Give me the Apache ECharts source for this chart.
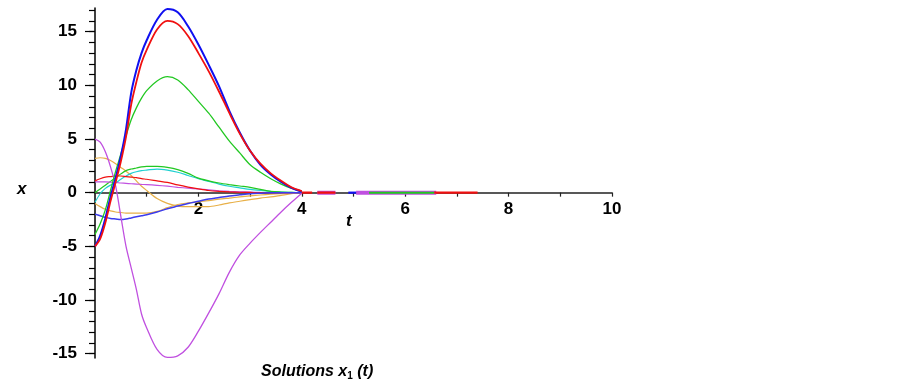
<!DOCTYPE html>
<html>
<head>
<meta charset="utf-8">
<script src="https://cdn.jsdelivr.net/npm/echarts@6/dist/echarts.min.js"></script>
<style>
html,body{margin:0;padding:0;background:#fff;}
#chart{width:903px;height:389px;}
</style>
</head>
<body>
<div id="chart"></div>
<script>
// time samples (t)
const T = [0,0.1,0.2,0.3,0.4,0.5,0.6,0.7,0.8,0.9,1.0,1.2,1.4,1.6,1.8,2.0,2.2,2.4,2.6,2.8,3.0,3.2,3.4,3.6,3.8,4.0];

// solution curves x1(t)
const blueBig   = [-5.0,-4.0,-2.4,-0.4,1.4,3.4,5.9,9.3,11.4,13.0,14.2,16.1,17.1,16.8,15.5,13.8,11.9,9.9,7.6,5.6,3.9,2.6,1.7,1.0,0.45,0.1];
const redBig    = [-5.0,-4.3,-2.8,-0.8,1.0,2.9,5.2,8.2,10.3,12.1,13.3,15.2,16.0,15.7,14.6,13.0,11.3,9.4,7.4,5.5,3.9,2.7,1.8,1.1,0.5,0.15];
const greenBig  = [-3.9,-2.9,-1.6,0.2,2.0,3.6,5.3,6.8,7.9,8.8,9.5,10.4,10.8,10.5,9.6,8.5,7.4,6.1,4.8,3.7,2.6,1.9,1.3,0.8,0.4,0.1];
const purpleBig = [5.0,4.7,3.8,2.4,0.6,-2.2,-5.0,-7.0,-9.0,-11.3,-12.6,-14.6,-15.35,-15.2,-14.4,-12.9,-11.2,-9.4,-7.4,-5.8,-4.7,-3.7,-2.75,-1.8,-0.9,-0.05];
const orangeA   = [3.2,3.25,3.2,3.0,2.7,2.35,2.0,1.6,1.1,0.6,0.2,-0.55,-1.0,-1.25,-1.3,-1.3,-1.3,-1.15,-0.95,-0.8,-0.65,-0.5,-0.4,-0.25,-0.1,0];
const orangeB   = [-1.0,-1.3,-1.55,-1.7,-1.8,-1.85,-1.9,-1.9,-1.9,-1.9,-1.9,-1.75,-1.4,-1.1,-0.95,-0.85,-0.75,-0.6,-0.5,-0.4,-0.3,-0.22,-0.15,-0.1,-0.05,0];
const blueSmall = [-2.0,-2.15,-2.3,-2.4,-2.45,-2.5,-2.45,-2.35,-2.25,-2.15,-2.05,-1.8,-1.5,-1.25,-1.0,-0.8,-0.6,-0.45,-0.3,-0.2,-0.1,-0.05,0,0,0,0];
const redSmall  = [1.1,1.3,1.45,1.5,1.55,1.55,1.5,1.45,1.4,1.3,1.25,1.1,0.95,0.72,0.52,0.35,0.2,0.12,0.07,0.04,0.02,0,0,0,0,0];
const purpleSmall=[1.0,1.0,1.0,0.98,0.95,0.9,0.87,0.83,0.8,0.77,0.75,0.68,0.6,0.5,0.42,0.34,0.26,0.18,0.12,0.08,0.05,0.02,0,0,0,0];
const cyanLine  = [-0.9,-0.1,0.4,0.7,0.9,1.25,1.55,1.8,1.95,2.05,2.1,2.2,2.1,1.9,1.6,1.3,1.05,0.8,0.6,0.45,0.3,0.2,0.12,0.06,0.03,0];
const greenSmall= [0,0.35,0.7,1.05,1.4,1.75,2.05,2.2,2.3,2.4,2.45,2.45,2.35,2.15,1.8,1.35,1.1,0.9,0.75,0.62,0.5,0.3,0.12,0.06,0.03,0];

// near-zero stretches lying on the t axis after t = 4: [t start, t end]
const purpleTail = [[4.3,4.65],[5.05,6.6]];
const redTail    = [[4.0,4.2],[4.3,4.65],[6.56,7.4]];
const blueTail   = [[4.9,5.05]];
const greenTail  = [[5.3,6.56]];

// axis ticks
const xTicks = [1,2,3,4,5,6,7,8,9,10];
const xLabels = [2,4,6,8,10];
const yLabelTicks = [-15,-10,-5,0,5,10,15];
const yMinorTicks = [-15,-14,-13,-12,-11,-10,-9,-8,-7,-6,-5,-4,-3,-2,-1,0,1,2,3,4,5,6,7,8,9,10,11,12,13,14,15,16,17];
const yMin = -15.4, yMax = 17.2;

function pts(vals){ return T.map((t,i)=>[t, vals[i]]); }
function segs(list){
  const out = [];
  list.forEach(s=>{ out.push([s[0],0]); out.push([s[1],0]); out.push([s[1]+0.001,'-']); });
  return out;
}
function line(name, vals, color, width){
  return {type:'line', name, data: pts(vals), showSymbol:false, smooth:0.3,
    lineStyle:{color, width}, itemStyle:{color}, silent:true, animation:false};
}
function tail(name, list, color, width){
  return {type:'line', name, data: segs(list), showSymbol:false, connectNulls:false,
    lineStyle:{color, width}, itemStyle:{color}, silent:true, animation:false};
}

const C = {blue:'#1010f0', red:'#f01010', green:'#22c822', purple:'#c050e0',
  orange:'#e8b048', cyan:'#20d0d0', blue2:'#3c3cee'};

const gridTop = 8, gridH = 350;
// place the t axis on the line x = 0
const xAxisOffset = -gridH * (0 - yMin) / (yMax - yMin);

const chart = echarts.init(document.getElementById('chart'), null, {renderer:'canvas'});
const font = '"Liberation Sans", Arial, sans-serif';
chart.setOption({
  animation:false,
  grid:{left:95, top:gridTop, width:517, height:gridH, containLabel:false},
  xAxis:{type:'value', min:0, max:10, position:'bottom', offset:xAxisOffset,
    axisLine:{onZero:false, lineStyle:{color:'#222', width:1.5}},
    axisTick:{show:true, length:4, customValues:xTicks, lineStyle:{color:'#222', width:1.2}},
    axisLabel:{margin:8, color:'#000', fontFamily:font, fontSize:17, fontWeight:'bold',
      customValues:xLabels},
    splitLine:{show:false}},
  yAxis:[
    {type:'value', min:yMin, max:yMax, position:'left',
      axisLine:{show:true, onZero:false, lineStyle:{color:'#000', width:1.5}},
      axisTick:{show:true, length:10, customValues:yLabelTicks, lineStyle:{color:'#000', width:1.2}},
      axisLabel:{margin:18, color:'#000', fontFamily:font, fontSize:17, fontWeight:'bold',
        customValues:yLabelTicks},
      splitLine:{show:false}},
    {type:'value', min:yMin, max:yMax, position:'left', offset:0,
      axisLine:{show:false},
      axisTick:{show:true, length:6, customValues:yMinorTicks, lineStyle:{color:'#000', width:1.2}},
      axisLabel:{show:false}, splitLine:{show:false}}
  ],
  series:[
    line('orangeA', orangeA, C.orange, 1.2),
    line('orangeB', orangeB, C.orange, 1.2),
    line('cyan', cyanLine, C.cyan, 1.2),
    line('greenSmall', greenSmall, C.green, 1.2),
    line('purpleSmall', purpleSmall, C.purple, 1.2),
    line('redSmall', redSmall, C.red, 1.2),
    line('blueSmall', blueSmall, C.blue2, 1.5),
    line('purpleBig', purpleBig, C.purple, 1.3),
    line('greenBig', greenBig, C.green, 1.3),
    line('blueBig', blueBig, C.blue, 2),
    line('redBig', redBig, C.red, 1.8),
    tail('purpleTail', purpleTail, C.purple, 4),
    tail('redTail', redTail, C.red, 2.2),
    tail('blueTail', blueTail, C.blue, 2.2),
    tail('greenTail', greenTail, C.green, 2)
  ],
  graphic:[
    {type:'text', left:17, top:181, style:{text:'x', font:'italic bold 17px ' + font, fill:'#000'}},
    {type:'text', left:346, top:213, style:{text:'t', font:'italic bold 17px ' + font, fill:'#000'}},
    {type:'text', left:261, top:364, style:{
      text:'{a|Solutions x}{s|1}{a| (t)}',
      rich:{
        a:{fontFamily:font, fontStyle:'italic', fontWeight:'bold', fontSize:16, fill:'#000', color:'#000'},
        s:{fontFamily:font, fontStyle:'normal', fontWeight:'bold', fontSize:10, fill:'#000', color:'#000', verticalAlign:'bottom', padding:[8,0,0,0]}
      }}}
  ]
});
</script>
</body>
</html>
